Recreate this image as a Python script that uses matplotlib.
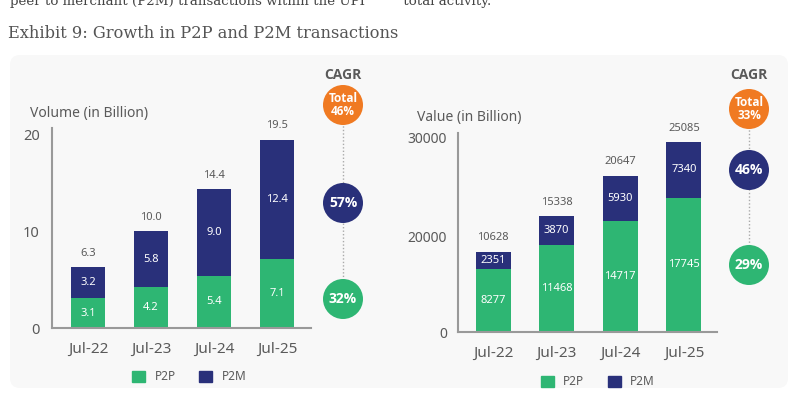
import numpy as np
import matplotlib.pyplot as plt
from matplotlib.patches import Circle, FancyBboxPatch, Patch

# dane
months = ['Jul-22', 'Jul-23', 'Jul-24', 'Jul-25']
vol_p2p = [3.1, 4.2, 5.4, 7.1]
vol_p2m = [3.2, 5.8, 9.0, 12.4]
vol_total = [6.3, 10.0, 14.4, 19.5]
val_p2p = [8277, 11468, 14717, 17745]
val_p2m = [2351, 3870, 5930, 7340]
val_total = [10628, 15338, 20647, 25085]
vol_cagr = ['46%', '57%', '32%']
val_cagr = ['33%', '46%', '29%']
# oznake osi kot na sliki (postavljene niso linearno)
val_ticks = [0, 12680, 25630]
val_ticklabels = ['0', '20000', '30000']

GREEN = '#2eb673'
NAVY = '#29307a'
ORANGE = '#f07a22'
GREY = '#5a5a5a'
BOLD = ['Open Sans', 'DejaVu Sans']

W, H = 795, 394
plt.rcParams['font.family'] = ['Noto Sans', 'DejaVu Sans']
fig = plt.figure(figsize=(W / 100, H / 100), dpi=100)
fig.patch.set_facecolor('white')

def box(x0, y0, x1, y1):
    # pretvori piksle v koordinate figure
    return [x0 / W, 1 - y1 / H, (x1 - x0) / W, (y1 - y0) / H]

# ozadje + besedilo
bg = fig.add_axes([0, 0, 1, 1])
bg.set_xlim(0, W)
bg.set_ylim(H, 0)
bg.axis('off')
bg.add_patch(FancyBboxPatch((10, 55), 778, 333, boxstyle='round,pad=0,rounding_size=10',
                            fc='#f8f8f8', ec='none'))
bg.text(10, 5, 'peer to merchant (P2M) transactions within the UPI         total activity.',
        fontsize=9.6, family='DejaVu Serif', color='#444', va='baseline', ha='left')
bg.text(8, 33, 'Exhibit 9: Growth in P2P and P2M transactions', fontsize=11.7,
        family='DejaVu Serif', color='#555', va='center', ha='left')


def stacked(ax, p2p, p2m, total, fmt):
    x = np.arange(len(months))
    ax.bar(x, p2p, width=0.55, color=GREEN)
    ax.bar(x, p2m, width=0.55, bottom=p2p, color=NAVY)
    for i in range(len(x)):
        ax.text(x[i], p2p[i] / 2, fmt(p2p[i]), ha='center', va='center', color='white', fontsize=8)
        ax.text(x[i], p2p[i] + p2m[i] / 2, fmt(p2m[i]), ha='center', va='center', color='white', fontsize=8)
        ax.annotate(fmt(total[i]), (x[i], total[i]), xytext=(0, 6), textcoords='offset points',
                    ha='center', va='bottom', color=GREY, fontsize=8)
    ax.set_xticks(x)
    ax.set_xticklabels(months, fontsize=11, color=GREY)
    ax.tick_params(length=0, pad=10, labelcolor=GREY)
    ax.set_facecolor('none')
    for s in ['top', 'right']:
        ax.spines[s].set_visible(False)
    for s in ['left', 'bottom']:
        ax.spines[s].set_color('#999999')
        ax.spines[s].set_linewidth(1.5)


# volumen
ax1 = fig.add_axes(box(52, 128, 311, 328))
stacked(ax1, vol_p2p, vol_p2m, vol_total, lambda v: f'{v:.1f}')
ax1.set_xlim(-0.57, 3.54)
ax1.set_ylim(0, 20.7)
ax1.set_yticks([0, 10, 20])
ax1.tick_params(axis='y', labelsize=10.5, pad=9)
bg.text(30, 113, 'Volume (in Billion)', fontsize=10, color=GREY, va='center', ha='left')
ax1.legend(handles=[Patch(color=GREEN, label='P2P'), Patch(color=NAVY, label='P2M')],
           loc='center', bbox_to_anchor=(0.53, -0.245), ncol=2, frameon=False,
           handlelength=1.1, handleheight=1.1, fontsize=8.5, labelcolor=GREY, columnspacing=2)

# vrednost
ax2 = fig.add_axes(box(458, 133, 717, 332))
stacked(ax2, val_p2p, val_p2m, val_total, lambda v: f'{v:d}')
ax2.set_xlim(-0.55, 3.52)
ax2.set_ylim(0, 26290)
ax2.set_yticks(val_ticks)
ax2.set_yticklabels(val_ticklabels)
ax2.tick_params(axis='y', labelsize=10, pad=8)
bg.text(417, 117, 'Value (in Billion)', fontsize=10, color=GREY, va='center', ha='left')
ax2.legend(handles=[Patch(color=GREEN, label='P2P'), Patch(color=NAVY, label='P2M')],
           loc='center', bbox_to_anchor=(0.54, -0.25), ncol=2, frameon=False,
           handlelength=1.1, handleheight=1.1, fontsize=8.5, labelcolor=GREY, columnspacing=2)


def cagr(xc, ys, labels):
    bg.text(xc, 75, 'CAGR', fontsize=10, fontweight='bold', family=BOLD, color=GREY,
            ha='center', va='center')
    bg.plot([xc, xc], [ys[0], ys[-1]], ls=(0, (1, 1.5)), color='#aaaaaa', lw=1, zorder=1)
    cols = [ORANGE, NAVY, GREEN]
    for y, lab, c in zip(ys, labels, cols):
        bg.add_patch(Circle((xc, y), 20, fc=c, ec='none', zorder=2))
        txt = 'Total\n' + lab if c == ORANGE else lab
        fs = 8.5 if c == ORANGE else 10
        bg.text(xc, y, txt, ha='center', va='center', color='white', fontsize=fs,
                fontweight='bold', family=BOLD, linespacing=0.95, zorder=3)


cagr(343, [105, 203, 299], vol_cagr)
cagr(749, [109, 170, 265], val_cagr)

fig.savefig('out.png', dpi=100)
